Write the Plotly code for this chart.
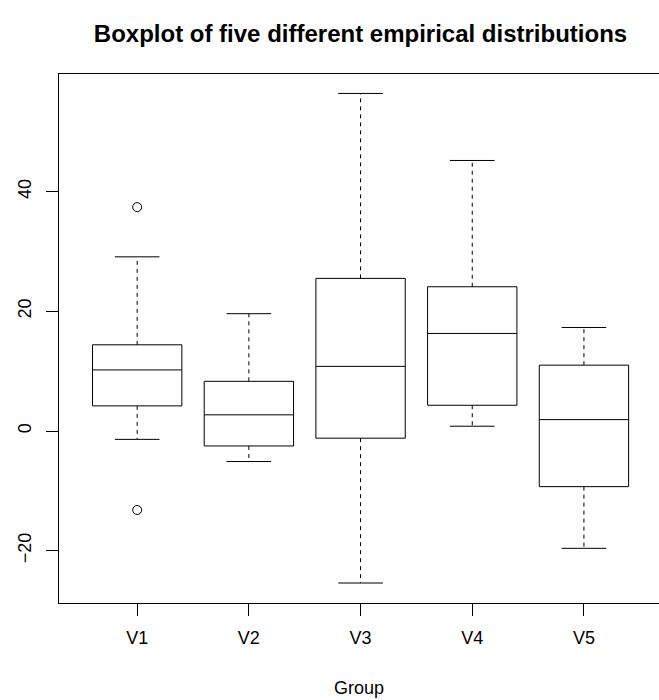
import plotly.graph_objects as go

groups = ["V1", "V2", "V3", "V4", "V5"]
positions = [1, 2, 3, 4, 5]
lower_whisker = [-1.4, -5.1, -25.4, 0.8, -19.6]
q1 = [4.2, -2.5, -1.2, 4.3, -9.3]
median = [10.2, 2.7, 10.8, 16.3, 1.9]
q3 = [14.4, 8.3, 25.5, 24.1, 11.0]
upper_whisker = [29.1, 19.6, 56.4, 45.2, 17.3]
outlier_group = [1, 1]
outlier_value = [37.4, -13.2]

y_ticks = [-20, 0, 20, 40]

BOX_W = 0.8
CAP_W = 0.4
FONT = "Liberation Sans, Arial, sans-serif"

fig = go.Figure()

# boxes with median lines (whiskers drawn separately as dashed lines)
fig.add_trace(go.Box(
    x=positions, q1=q1, median=median, q3=q3,
    lowerfence=q1, upperfence=q3,
    width=BOX_W, whiskerwidth=0,
    fillcolor="white", line=dict(color="black", width=1),
    boxpoints=False, hoverinfo="skip", showlegend=False,
))

# dashed whiskers
wx, wy = [], []
for p, lo, a, b, hi in zip(positions, lower_whisker, q1, q3, upper_whisker):
    wx += [p, p, None, p, p, None]
    wy += [b, hi, None, a, lo, None]
fig.add_trace(go.Scatter(x=wx, y=wy, mode="lines",
                         line=dict(color="black", width=1, dash="4px,4px"),
                         showlegend=False, hoverinfo="skip"))

# whisker caps
cx, cy = [], []
for p, lo, hi in zip(positions, lower_whisker, upper_whisker):
    cx += [p - CAP_W / 2, p + CAP_W / 2, None, p - CAP_W / 2, p + CAP_W / 2, None]
    cy += [hi, hi, None, lo, lo, None]
fig.add_trace(go.Scatter(x=cx, y=cy, mode="lines",
                         line=dict(color="black", width=1),
                         showlegend=False, hoverinfo="skip"))

# outliers
fig.add_trace(go.Scatter(x=outlier_group, y=outlier_value, mode="markers",
                         marker=dict(symbol="circle-open", size=9,
                                     color="black", line=dict(width=1)),
                         showlegend=False, hoverinfo="skip"))

fig.update_layout(
    width=659, height=700,
    margin=dict(l=59, r=0, t=74, b=97),
    paper_bgcolor="white", plot_bgcolor="white",
    font=dict(family=FONT, color="black", size=18),
    title=dict(text="<b>Boxplot of five different empirical distributions</b>",
               x=360.5 / 659, xref="container", xanchor="center",
               y=1 - 34 / 700, yref="container", yanchor="middle",
               font=dict(family=FONT, size=24, color="black")),
    xaxis=dict(range=[0.3, 5.672], tickmode="array", tickvals=positions,
               ticktext=groups, showgrid=False, zeroline=False,
               showline=True, mirror=True, linecolor="black", linewidth=1,
               ticks="outside", ticklen=12, tickcolor="black", tickwidth=1,
               tickfont=dict(size=18), ticklabelstandoff=6,
               title=dict(text="Group", font=dict(size=18), standoff=34)),
    yaxis=dict(range=[-28.74, 59.65], tickmode="array", tickvals=y_ticks,
               showgrid=False, zeroline=False,
               showline=True, mirror=False, linecolor="black", linewidth=1,
               ticks="outside", ticklen=12, tickcolor="black", tickwidth=1,
               tickangle=-90, tickfont=dict(size=18), ticklabelstandoff=8),
)

fig.write_html("out.html")
